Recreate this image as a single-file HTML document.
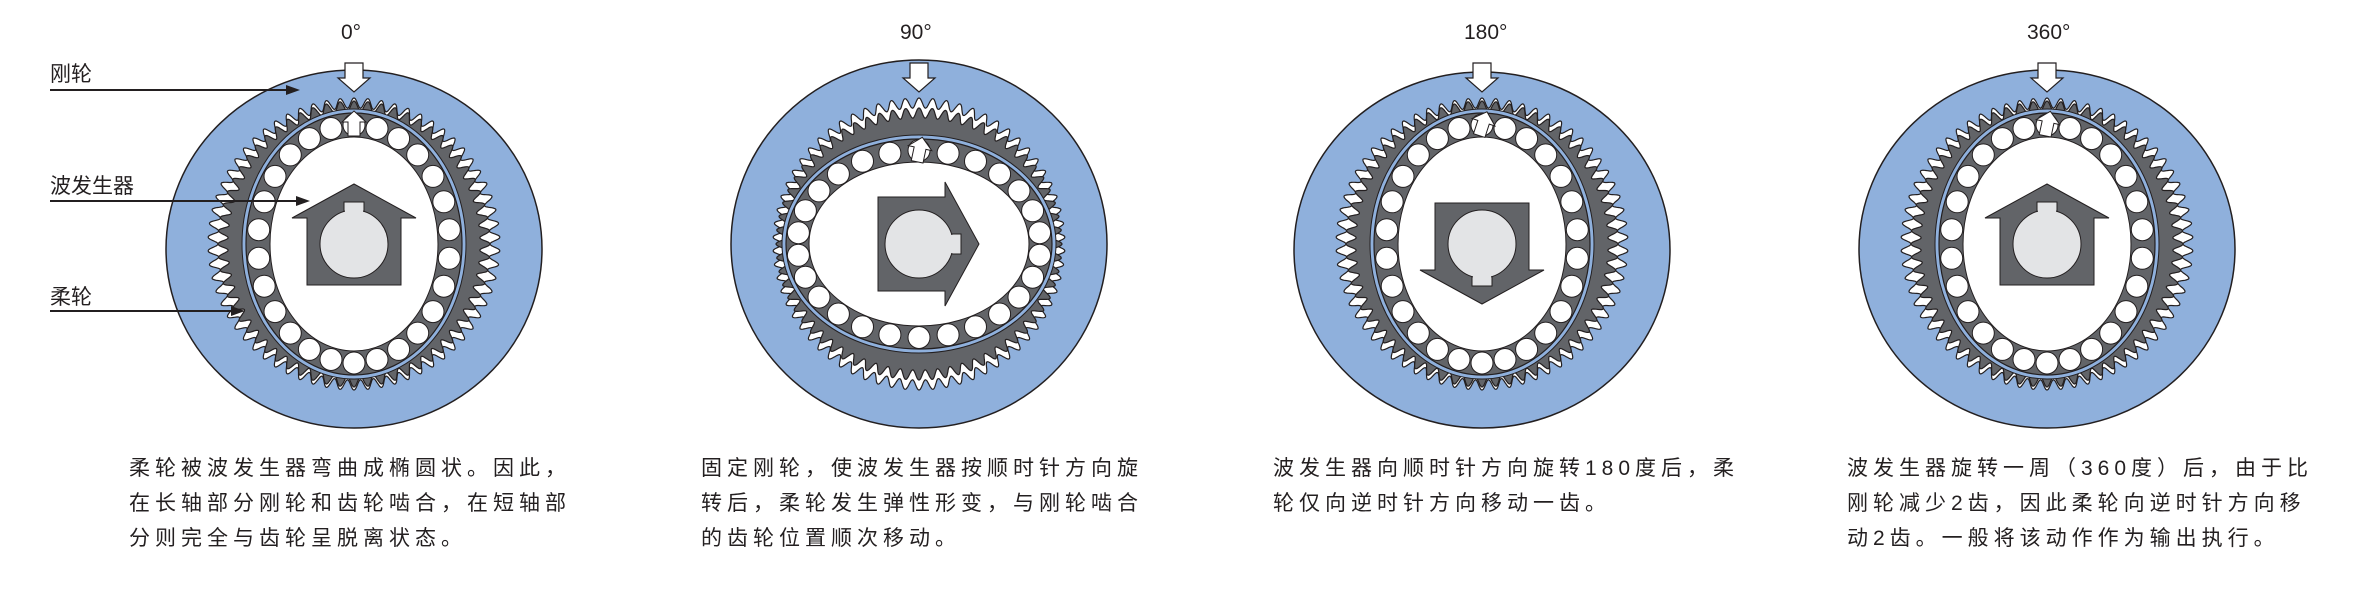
<!DOCTYPE html>
<html><head><meta charset="utf-8">
<style>
html,body{margin:0;padding:0;background:#fff;}
body{width:2360px;height:612px;position:relative;overflow:hidden;font-family:"Liberation Sans","Noto Sans CJK SC",sans-serif;color:#231f20;}
.cap{position:absolute;top:451px;font-size:21px;line-height:35px;letter-spacing:5px;white-space:nowrap;}
.lab{position:absolute;font-size:21px;white-space:nowrap;}
svg{position:absolute;left:0;top:0;}
</style></head>
<body>
<svg id="s" width="2360" height="612" viewBox="0 0 2360 612"></svg>
<div class="lab" style="left:50px;top:58px;">刚轮</div>
<div class="lab" style="left:50px;top:170px;">波发生器</div>
<div class="lab" style="left:50px;top:281px;">柔轮</div>
<div class="lab" style="left:341px;top:21px;">0°</div>
<div class="lab" style="left:900px;top:21px;">90°</div>
<div class="lab" style="left:1464px;top:21px;">180°</div>
<div class="lab" style="left:2027px;top:21px;">360°</div>
<div class="cap" style="left:129px;">柔轮被波发生器弯曲成椭圆状。因此，<br>在长轴部分刚轮和齿轮啮合，在短轴部<br>分则完全与齿轮呈脱离状态。</div>
<div class="cap" style="left:701px;">固定刚轮，使波发生器按顺时针方向旋<br>转后，柔轮发生弹性形变，与刚轮啮合<br>的齿轮位置顺次移动。</div>
<div class="cap" style="left:1273px;">波发生器向顺时针方向旋转180度后，柔<br>轮仅向逆时针方向移动一齿。</div>
<div class="cap" style="left:1847px;">波发生器旋转一周（360度）后，由于比<br>刚轮减少2齿，因此柔轮向逆时针方向移<br>动2齿。一般将该动作作为输出执行。</div>
<script>
var s=document.getElementById('s');var h='';
function gear(cx,cy,rx,ry,amp,n,sg){var p=[];var N=1440;
for(var i=0;i<N;i++){var t=i/N*2*Math.PI;var x=Math.cos(t),y=Math.sin(t);
var r=1/Math.sqrt(x*x/(rx*rx)+y*y/(ry*ry))+sg*amp*Math.cos(n*(t+Math.PI/2));
p.push((cx+r*x).toFixed(1)+','+(cy+r*y).toFixed(1));}
return p.join(' ');}
var D=[{cx:354,cy:249,ry:179,v:1,a:0,tilt:0},{cx:919,cy:244,ry:184,v:0,a:90,tilt:12},{cx:1482,cy:250,ry:178,v:1,a:180,tilt:18},{cx:2047,cy:249,ry:179,v:1,a:0,tilt:12}];
D.forEach(function(d){var cx=d.cx,cy=d.cy;var gy=244;
h+='<ellipse cx="'+cx+'" cy="'+cy+'" rx="188" ry="'+d.ry+'" fill="#8fb0dc" stroke="#231f20" stroke-width="1.5"/>';
h+='<polygon points="'+gear(cx,gy,141,141,5,66,1)+'" fill="#fff" stroke="#231f20" stroke-width="1.2"/>';
var frx=d.v?131:138,fry=d.v?138:131;
h+='<polygon points="'+gear(cx,gy,frx,fry,5,64,1)+'" fill="#626468" stroke="#231f20" stroke-width="1.2"/>';
var brx=d.v?108:133,bry=d.v?131:105;
h+='<ellipse cx="'+cx+'" cy="'+gy+'" rx="'+(brx+4)+'" ry="'+(bry+4)+'" fill="#8fb0dc" stroke="#231f20" stroke-width="1"/>';
h+='<ellipse cx="'+cx+'" cy="'+gy+'" rx="'+brx+'" ry="'+bry+'" fill="#626468" stroke="#231f20" stroke-width="1.2"/>';
var irx=d.v?84:110,iry=d.v?107:82;
var mrx=(brx+irx)/2,mry=(bry+iry)/2;
for(var i=0;i<26;i++){var t=i/26*2*Math.PI+Math.PI/26;h+='<circle cx="'+(cx+mrx*Math.cos(t)).toFixed(1)+'" cy="'+(gy+mry*Math.sin(t)).toFixed(1)+'" r="11" fill="#fff" stroke="#231f20" stroke-width="1"/>';}
h+='<ellipse cx="'+cx+'" cy="'+gy+'" rx="'+irx+'" ry="'+iry+'" fill="#fff" stroke="#231f20" stroke-width="1"/>';
h+='<g transform="translate('+cx+','+gy+') rotate('+d.a+')">';
h+='<polygon points="0,-60 62,-26 47,-26 47,41 -47,41 -47,-26 -62,-26" fill="#626468" stroke="#231f20" stroke-width="1"/>';
h+='<rect x="-10" y="-42" width="20" height="14" fill="#e3e4e6" stroke="#231f20" stroke-width="1"/>';
h+='<circle cx="0" cy="0" r="34" fill="#e3e4e6" stroke="#231f20" stroke-width="1"/>';
h+='<rect x="-9" y="-36" width="18" height="10" fill="#e3e4e6"/>';
h+='</g>';
h+='<g transform="translate('+cx+','+(gy-(bry-14))+') rotate('+d.tilt+')"><polygon points="0,-16 12,-5 6,-5 6,9 -6,9 -6,-5 -12,-5" fill="#fff" stroke="#231f20" stroke-width="1"/></g>';
h+='<polygon points="'+(cx-9)+',63 '+(cx+9)+',63 '+(cx+9)+',78 '+(cx+16)+',78 '+cx+',92 '+(cx-16)+',78 '+(cx-9)+',78" fill="#fff" stroke="#231f20" stroke-width="1.2"/>';
});
[[90,300],[201,310],[311,245]].forEach(function(l){var y=l[0],x=l[1];
h+='<line x1="50" y1="'+y+'" x2="'+(x-10)+'" y2="'+y+'" stroke="#231f20" stroke-width="2"/>';
h+='<polygon points="'+x+','+y+' '+(x-14)+','+(y-5)+' '+(x-14)+','+(y+5)+'" fill="#231f20"/>';});
s.innerHTML=h;
</script>
</body></html>
